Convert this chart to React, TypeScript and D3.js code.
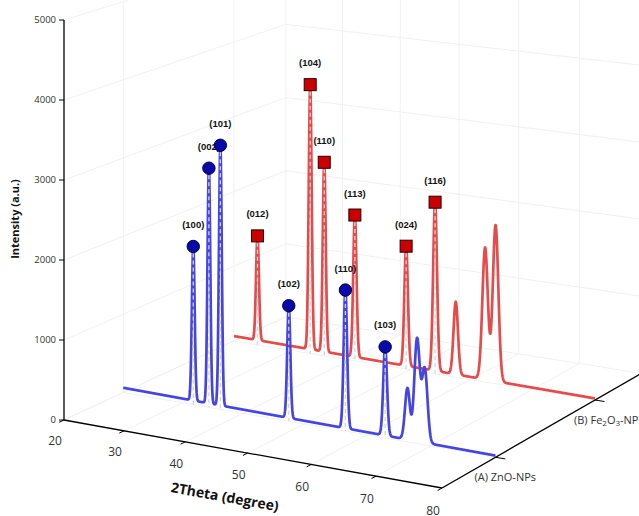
import React from "react";
import * as d3 from "d3";

const width = 639;
const height = 516;

// (A) ZnO-NPs peaks: position (2theta), height above baseline, width (fwhm)
const znoPos = [31.8, 34.4, 36.3, 47.5, 56.6, 62.9, 66.4, 67.9, 69.1];
const znoAmp = [1950, 2970, 3280, 1400, 1710, 1090, 630, 1250, 900];
const znoFwhm = [0.55, 0.55, 0.55, 0.6, 0.65, 0.7, 0.9, 1.0, 1.0];
const znoHkl = ["(100)", "(002)", "(101)", "(102)", "(110)", "(103)"];
const znoBase = [60, 20];

// (B) Fe2O3-NPs peaks
const fePos = [24.1, 33.2, 35.6, 40.8, 49.4, 54.2, 57.6, 62.4, 64.1];
const feAmp = [1390, 3500, 2500, 1865, 1560, 2190, 940, 1700, 2010];
const feFwhm = [0.6, 0.6, 0.6, 0.65, 0.7, 0.75, 0.85, 1.05, 1.05];
const feHkl = ["(012)", "(104)", "(110)", "(113)", "(024)", "(116)"];
const feBase = [66, 20];

const xTicks = [20, 30, 40, 50, 60, 70, 80];
const zTicks = [0, 1000, 2000, 3000, 4000, 5000];
const depthTicks = [0.5, 1.5];
const depthNames = ["(A) ZnO-NPs", "(B) Fe2O3-NPs"];

// floor of the box: 2theta 20..80, depth 0..1.5 -> screen quad
const uScale = d3.scaleLinear().domain([20, 80]).range([0, 1]);
const vScale = d3.scaleLinear().domain([0, 1.5]).range([0, 1]);
const zScale = d3.scaleLinear().domain([0, 5000]).range([0, 400]);
const corners = [[64, 420], [442, 488], [595, 400], [234, 341]];

function squareToQuad(q) {
  const [[x0, y0], [x1, y1], [x2, y2], [x3, y3]] = q;
  const dx1 = x1 - x2, dx2 = x3 - x2, dx3 = x0 - x1 + x2 - x3;
  const dy1 = y1 - y2, dy2 = y3 - y2, dy3 = y0 - y1 + y2 - y3;
  const den = dx1 * dy2 - dx2 * dy1;
  const g = (dx3 * dy2 - dx2 * dy3) / den;
  const h = (dx1 * dy3 - dx3 * dy1) / den;
  return {
    a: x1 - x0 + g * x1, b: x3 - x0 + h * x3, c: x0,
    d: y1 - y0 + g * y1, e: y3 - y0 + h * y3, f: y0,
    g, h,
  };
}
const Hm = squareToQuad(corners);

function project(x, dep, z) {
  const u = uScale(x), v = vScale(dep);
  const w = Hm.g * u + Hm.h * v + 1;
  return [(Hm.a * u + Hm.b * v + Hm.c) / w, (Hm.d * u + Hm.e * v + Hm.f) / w - zScale(z) / w];
}

const profile = (pos, amp, fwhm, base) => (x) =>
  base[0] + (base[1] - base[0]) * (x - 20) / 60 +
  d3.sum(pos, (p, i) => amp[i] * Math.exp(-4 * Math.LN2 * ((x - p) / fwhm[i]) ** 2));

const xs = d3.range(20, 80.0001, 0.04);

const series = [
  { name: "fe", depth: 1.5, pos: fePos, hkl: feHkl, f: profile(fePos, feAmp, feFwhm, feBase), color: "#e64b4b" },
  { name: "zno", depth: 0.5, pos: znoPos, hkl: znoHkl, f: profile(znoPos, znoAmp, znoFwhm, znoBase), color: "#4545e4" },
];

const line = d3.line();

const seg = (a, b) => {
  const p = project(...a), q = project(...b);
  return `M${p[0]},${p[1]}L${q[0]},${q[1]}`;
};

function Grid() {
  const paths = [];
  xTicks.forEach((x) => {
    paths.push(seg([x, 0, 0], [x, 2, 0]));
    paths.push(seg([x, 2, 0], [x, 2, 5000]));
  });
  zTicks.forEach((z) => {
    paths.push(seg([20, 2, z], [80, 2, z]));
    paths.push(seg([20, 0, z], [20, 2, z]));
  });
  depthTicks.forEach((dp) => {
    paths.push(seg([20, dp, 0], [80, dp, 0]));
    paths.push(seg([20, dp, 0], [20, dp, 5000]));
  });
  return (
    <g className="grid" stroke="#f1f1f1" strokeWidth={1} fill="none">
      {paths.map((p, i) => <path key={i} d={p} />)}
    </g>
  );
}

function DepthLabel({ text, x, y }) {
  // digits after a letter become subscripts (Fe2O3)
  const parts = text.split(/(?<=[A-Za-z])(\d)/);
  let sub = false;
  return (
    <text x={x} y={y} fontSize={11} fill="#333" fontFamily="Open Sans" dominantBaseline="middle">
      {parts.map((p, i) => {
        const isSub = /^\d$/.test(p) && i % 2 === 1;
        const dy = isSub && !sub ? 3 : !isSub && sub ? -3 : 0;
        sub = isSub;
        return <tspan key={i} dy={dy} fontSize={isSub ? 8 : 11}>{p}</tspan>;
      })}
    </text>
  );
}

export default function App() {
  const axisEnd = project(80, 2.1, 0);
  const ang = (Math.atan2(corners[1][1] - corners[0][1], corners[1][0] - corners[0][0]) * 180) / Math.PI;
  const mid = project(50, 0, 0);

  return (
    <svg width={width} height={height} viewBox={`0 0 ${width} ${height}`}
      style={{ position: "absolute", left: 0, top: 0, background: "#fff" }}>
      <Grid />

      {series.map((s) => (
        <g key={s.name}>
          <path d={line(xs.map((x) => project(x, s.depth, s.f(x))))}
            fill="none" stroke={s.color} strokeWidth={2.7} strokeLinejoin="round" />
          {s.hkl.map((_, i) => {
            const x = s.pos[i];
            const [px, py] = project(x, s.depth, s.f(x));
            const [bx, by] = project(x, s.depth, 0);
            return <line key={i} x1={px} y1={py} x2={bx} y2={by}
              stroke="#d4d4d4" strokeWidth={1.3} strokeDasharray="4,3" />;
          })}
        </g>
      ))}

      {/* z axis */}
      <g className="z-axis" fontFamily="Open Sans" fontSize={9.5} fill="#333">
        <path d={seg([20, 0, 0], [20, 0, 5000])} stroke="#000" strokeWidth={1.3} />
        {zTicks.map((z) => {
          const [x, y] = project(20, 0, z);
          return (
            <g key={z}>
              <line x1={x - 5} x2={x} y1={y} y2={y} stroke="#000" strokeWidth={1} />
              <text x={x - 8} y={y} textAnchor="end" dominantBaseline="middle">{z}</text>
            </g>
          );
        })}
      </g>

      {/* x axis */}
      <g className="x-axis" fontFamily="Open Sans" fontSize={12} fill="#333">
        <path d={seg([20, 0, 0], [80, 0, 0])} stroke="#000" strokeWidth={1.3} />
        {xTicks.map((t) => {
          const [x, y] = project(t, 0, 0);
          const [x2, y2] = project(t, -0.04, 0);
          return (
            <g key={t}>
              <line x1={x} y1={y} x2={x2} y2={y2} stroke="#000" strokeWidth={1} />
              <text x={x - 9} y={y + 22 + (t - 20) / 30} textAnchor="middle" dominantBaseline="middle">{t}</text>
            </g>
          );
        })}
      </g>

      {/* depth axis */}
      <g className="y-axis">
        <path d={`M${corners[1][0]},${corners[1][1]}L${axisEnd[0]},${axisEnd[1]}`} stroke="#000" strokeWidth={1.3} />
        {depthTicks.map((dp, i) => {
          const [x, y] = project(80, dp, 0);
          const [x2, y2] = project(81.5, dp, 0);
          return (
            <g key={dp}>
              <line x1={x} y1={y} x2={x2} y2={y2} stroke="#000" strokeWidth={1} />
              <DepthLabel text={depthNames[i]} x={x - 21} y={y + 21} />
            </g>
          );
        })}
      </g>

      <text transform={`translate(${mid[0] - 23},${mid[1] + 45}) rotate(${ang})`} textAnchor="middle"
        dominantBaseline="middle" fontFamily="Open Sans" fontWeight="bold" fontSize={14} fill="#111">
        2Theta (degree)
      </text>
      <text transform="translate(16,219) rotate(-90)" textAnchor="middle" dominantBaseline="middle"
        fontFamily="Open Sans" fontWeight="bold" fontSize={11} fill="#111">
        Intensity (a.u.)
      </text>

      {/* hkl labels, then markers on top */}
      {series.map((s) => (
        <g key={s.name + "-lab"} fontFamily="Liberation Sans" fontWeight="bold" fontSize={9.5} fill="#111">
          {s.hkl.map((h, i) => {
            const [px, py] = project(s.pos[i], s.depth, s.f(s.pos[i]));
            return <text key={i} x={px} y={py - 21} textAnchor="middle" dominantBaseline="middle">{h}</text>;
          })}
        </g>
      ))}
      {series.map((s) => (
        <g key={s.name + "-mk"}>
          {s.hkl.map((_, i) => {
            const [px, py] = project(s.pos[i], s.depth, s.f(s.pos[i]));
            return s.name === "zno"
              ? <circle key={i} cx={px} cy={py} r={6.2} fill="#0a0aa8" stroke="#00004a" strokeWidth={1} />
              : <rect key={i} x={px - 6} y={py - 6} width={12} height={12} fill="#cc0000" stroke="#2a0000" strokeWidth={1} />;
          })}
        </g>
      ))}
    </svg>
  );
}
